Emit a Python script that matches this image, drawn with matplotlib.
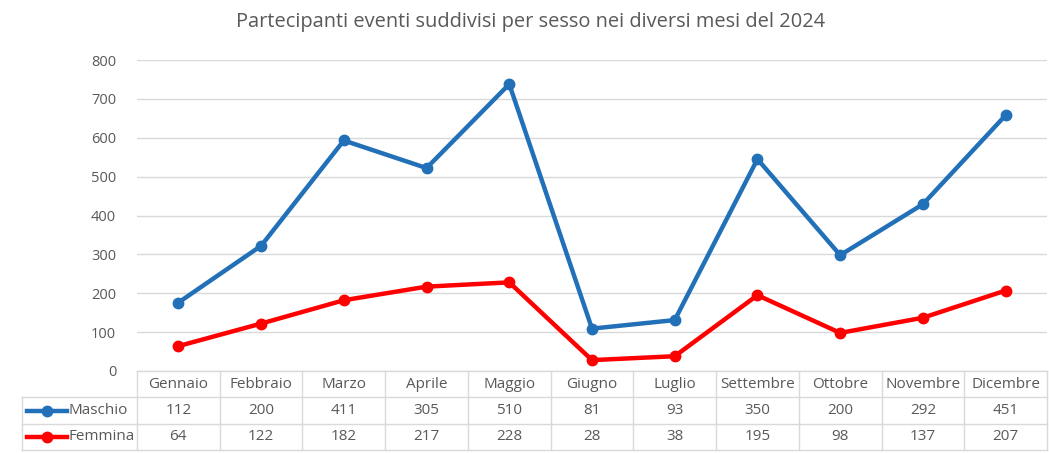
import matplotlib
matplotlib.use("Agg")
import matplotlib.pyplot as plt
import matplotlib.transforms as mtrans
import numpy as np

plt.rcParams['font.family'] = ['Open Sans', 'DejaVu Sans']

mesi = ['Gennaio', 'Febbraio', 'Marzo', 'Aprile', 'Maggio', 'Giugno',
        'Luglio', 'Settembre', 'Ottobre', 'Novembre', 'Dicembre']
maschio = [112, 200, 411, 305, 510, 81, 93, 350, 200, 292, 451]
femmina = [64, 122, 182, 217, 228, 28, 38, 195, 98, 137, 207]
serie = ['Maschio', 'Femmina']
colori = ['#2271B8', '#FF0000']

W, H = 1049, 453
fig = plt.figure(figsize=(W / 100, H / 100), dpi=100)

# plot area in pixels
x0, x1 = 137, 1047
y_top, y_zero = 60, 371
ax = fig.add_axes([x0 / W, 1 - y_zero / H, (x1 - x0) / W, (y_zero - y_top) / H])

x = np.arange(len(mesi))
m = np.array(maschio)
f = np.array(femmina)
# stacked lines: maschio sits on top of femmina
ax.plot(x, f + m, color=colori[0], lw=3.2, marker='o', ms=7.5, zorder=3)
ax.plot(x, f, color=colori[1], lw=3.2, marker='o', ms=7.5, zorder=3)

ax.set_xlim(-0.5, len(mesi) - 0.5)
ax.set_ylim(0, 800)
ax.set_yticks(range(0, 801, 100))
ax.yaxis.grid(True, color='#D9D9D9', lw=1)
ax.set_axisbelow(True)
ax.set_xticks([])
for s in ax.spines.values():
    s.set_visible(False)
ax.tick_params(axis='y', length=0, pad=15, labelsize=10.5, labelcolor='#595959')

fig.text(531 / W, 1 - 22 / H, 'Partecipanti eventi suddivisi per sesso nei diversi mesi del 2024',
         ha='center', va='center', fontsize=14.4, color='#595959')

# data table under the chart
tr = mtrans.blended_transform_factory(ax.transData, fig.transFigure)
trf = fig.transFigure
gray = '#D9D9D9'
rows = [371, 397, 424, 450]
yf = [1 - r / H for r in rows]
n = len(mesi)
# header line and column separators
fig.add_artist(plt.Line2D([x0 / W, x1 / W], [yf[0], yf[0]], color=gray, lw=1, transform=trf))
for r in yf[1:]:
    fig.add_artist(plt.Line2D([22 / W, x1 / W], [r, r], color=gray, lw=1, transform=trf))
for k in range(n + 1):
    fig.add_artist(plt.Line2D([k - 0.5, k - 0.5], [yf[0], yf[3]], color=gray, lw=1, transform=tr))
fig.add_artist(plt.Line2D([22 / W, 22 / W], [yf[1], yf[3]], color=gray, lw=1, transform=trf))

txt = dict(ha='center', va='center', fontsize=11, color='#595959')
for i, mese in enumerate(mesi):
    fig.text(i, (yf[0] + yf[1]) / 2, mese, transform=tr, **txt)
    fig.text(i, (yf[1] + yf[2]) / 2, str(maschio[i]), transform=tr, **txt)
    fig.text(i, (yf[2] + yf[3]) / 2, str(femmina[i]), transform=tr, **txt)

for j, (nome, c) in enumerate(zip(serie, colori)):
    yc = (yf[j + 1] + yf[j + 2]) / 2
    fig.add_artist(plt.Line2D([27 / W, 67 / W], [yc, yc], color=c, lw=3.2, transform=trf))
    fig.add_artist(plt.Line2D([47 / W], [yc], color=c, marker='o', ms=7.5, transform=trf))
    fig.text(68 / W, yc, nome, ha='left', va='center', fontsize=11, color='#595959')

fig.savefig('out.png', dpi=100, facecolor='white')
